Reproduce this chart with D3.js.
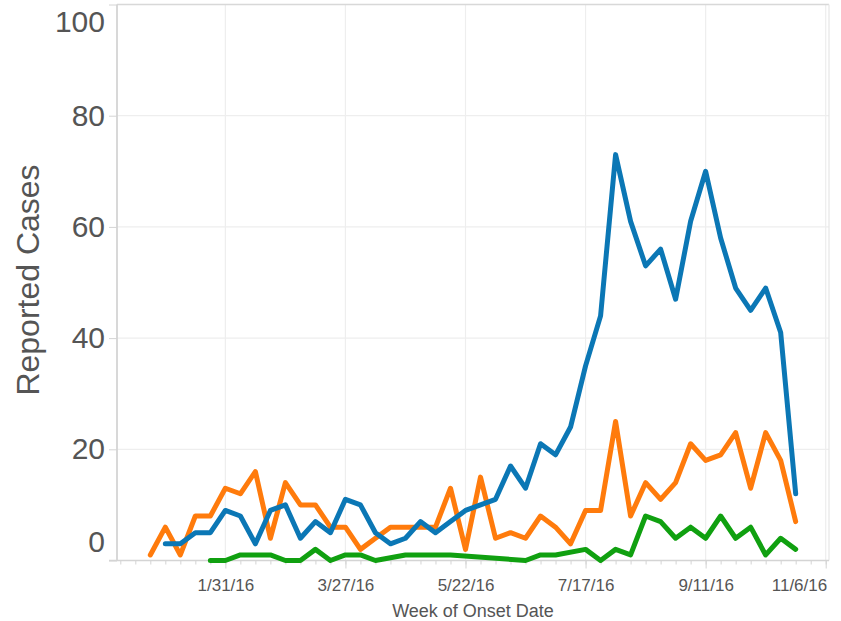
<!DOCTYPE html>
<html>
<head>
<meta charset="utf-8">
<script src="https://cdn.jsdelivr.net/npm/d3@7"></script>
<style>
  body { margin: 0; background: #fff; }
  text { font-family: "Liberation Sans", Arial, sans-serif; fill: #555; }
</style>
</head>
<body>
<div id="chart"></div>
<script>
// first week shown and number of weekly points
var firstWeek = new Date(2015, 11, 27);
var weekCount = 44;

// reported cases per week (null = no point that week)
var casesBlue = [null, 3, 3, 5, 5, 9, 8, 3, 9, 10, 4, 7, 5, 11, 10, 5, 3, 4, 7, 5, 7, 9,
  10, 11, 17, 13, 21, 19, 24, 35, 44, 73, 61, 53, 56, 47, 61, 70, 58, 49, 45, 49, 41, 12];
var casesOrange = [1, 6, 1, 8, 8, 13, 12, 16, 4, 14, 10, 10, 6, 6, 2, 4, 6, 6, 6, 6, 13, 2,
  15, 4, 5, 4, 8, 6, 3, 9, 9, 25, 8, 14, 11, 14, 21, 18, 19, 23, 13, 23, 18, 7];
var casesGreen = [null, null, null, null, 0, 0, 1, 1, 1, 0, 0, 2, 0, 1, 1, 0, null, 1, 1, 1, 1, null,
  null, null, null, 0, 1, 1, null, 2, 0, 2, 1, 8, 7, 4, 6, 4, 8, 4, 6, 1, 4, 2];

var yTicks = [0, 20, 40, 60, 80, 100];
var xTickDates = [new Date(2016, 0, 31), new Date(2016, 2, 27), new Date(2016, 4, 22),
  new Date(2016, 6, 17), new Date(2016, 8, 11), new Date(2016, 10, 6)];

var svgWidth = 841;
var svgHeight = 621;

var plot = { left: 117, right: 829, top: 4.5, bottom: 560.5 };

var svg = d3.select("#chart")
  .append("svg")
  .attr("width", svgWidth)
  .attr("height", svgHeight);

var weeks = d3.timeSunday.range(firstWeek, d3.timeSunday.offset(firstWeek, weekCount));

// scales
var xScale = d3.scaleTime()
  .domain([new Date(2015, 11, 13), new Date(2016, 10, 6)])
  .range([120.3, 825.7]);

var yScale = d3.scaleLinear()
  .domain([0, 100])
  .range([plot.bottom, plot.top]);

// gridlines
svg.append("g")
  .selectAll("line")
  .data(yTicks.filter(d => d > 0 && d < 100))
  .enter()
  .append("line")
  .attr("x1", plot.left)
  .attr("x2", plot.right)
  .attr("y1", d => yScale(d))
  .attr("y2", d => yScale(d))
  .attr("stroke", "#eeeeee")
  .attr("stroke-width", 1.2);

svg.append("g")
  .selectAll("line")
  .data(xTickDates)
  .enter()
  .append("line")
  .attr("x1", d => xScale(d))
  .attr("x2", d => xScale(d))
  .attr("y1", plot.top)
  .attr("y2", plot.bottom)
  .attr("stroke", "#eeeeee")
  .attr("stroke-width", 1.2);

// pane border top/right
svg.append("line")
  .attr("x1", plot.left).attr("x2", plot.right)
  .attr("y1", plot.top).attr("y2", plot.top)
  .attr("stroke", "#d8d8d8").attr("stroke-width", 1.6);
svg.append("line")
  .attr("x1", plot.right).attr("x2", plot.right)
  .attr("y1", plot.top).attr("y2", plot.bottom)
  .attr("stroke", "#e6e6e6").attr("stroke-width", 1.2);

// minor weekly ticks on x axis
var minorAxis = d3.axisBottom(xScale)
  .ticks(d3.timeSunday.every(1))
  .tickSize(4)
  .tickFormat("");

var minorG = svg.append("g")
  .attr("transform", `translate(0, ${plot.bottom})`)
  .call(minorAxis);
minorG.select(".domain").remove();
minorG.selectAll("line").attr("stroke", "#d4d4d4");
minorG.selectAll(".tick").filter(function() {
  var x = +this.getAttribute("transform").match(/translate\(([-\d.]+)/)[1];
  return x < plot.left || x > plot.right;
}).remove();

// major x ticks with labels
var formatDate = d3.timeFormat("%-m/%-d/%y");
var majorAxis = d3.axisBottom(xScale)
  .tickValues(xTickDates)
  .tickSize(8)
  .tickPadding(10)
  .tickFormat(formatDate);

var majorG = svg.append("g")
  .attr("transform", `translate(0, ${plot.bottom})`)
  .call(majorAxis);
majorG.select(".domain").remove();
majorG.selectAll("line").attr("stroke", "#d4d4d4");
majorG.selectAll("text")
  .attr("font-size", 17)
  .style("fill", "#555");
// last label stays inside the pane
majorG.selectAll("text")
  .filter((d, i) => i === xTickDates.length - 1)
  .attr("text-anchor", "end")
  .attr("x", 1);

// x axis line
svg.append("line")
  .attr("x1", 109).attr("x2", plot.right)
  .attr("y1", plot.bottom).attr("y2", plot.bottom)
  .attr("stroke", "#d4d4d4").attr("stroke-width", 1.5);

// y axis
var leftAxis = d3.axisLeft(yScale)
  .tickValues(yTicks)
  .tickSize(8)
  .tickPadding(4);

var yG = svg.append("g")
  .attr("transform", `translate(${plot.left}, 0)`)
  .call(leftAxis);
yG.select(".domain").remove();
yG.selectAll("line").attr("stroke", "#d4d4d4");
yG.selectAll("text")
  .attr("font-size", 30)
  .style("fill", "#555");
// end labels are nudged inside the pane
yG.selectAll("text").filter(d => d === 100).attr("y", 17);
yG.selectAll("text").filter(d => d === 0).attr("y", -19);

svg.append("line")
  .attr("x1", plot.left).attr("x2", plot.left)
  .attr("y1", plot.top).attr("y2", plot.bottom)
  .attr("stroke", "#d4d4d4").attr("stroke-width", 1.8);

// axis titles
svg.append("text")
  .attr("x", 473)
  .attr("y", 617)
  .attr("text-anchor", "middle")
  .attr("font-size", 18)
  .text("Week of Onset Date");

svg.append("text")
  .attr("transform", "translate(39, 280) rotate(-90)")
  .attr("text-anchor", "middle")
  .attr("font-size", 32)
  .text("Reported Cases");

// lines
var line = d3.line()
  .x(d => xScale(d.date))
  .y(d => yScale(d.value));

function toPoints(values) {
  return weeks.map((w, i) => ({ date: w, value: values[i] }))
    .filter(d => d.value != null);
}

var seriesList = [
  { values: casesOrange, color: "#ff7b0c" },
  { values: casesBlue, color: "#0b77b5" },
  { values: casesGreen, color: "#10a010" }
];

svg.append("g")
  .selectAll("path")
  .data(seriesList)
  .enter()
  .append("path")
  .attr("d", d => line(toPoints(d.values)))
  .attr("fill", "none")
  .attr("stroke", d => d.color)
  .attr("stroke-width", 5)
  .attr("stroke-linejoin", "round")
  .attr("stroke-linecap", "round");
</script>
</body>
</html>
